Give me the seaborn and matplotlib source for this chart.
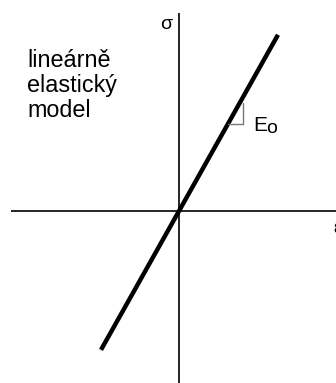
import matplotlib
matplotlib.use("Agg")
import matplotlib.pyplot as plt
import seaborn as sns
import pandas as pd

sns.set_theme(style="white")
plt.rcParams['font.family'] = ['Liberation Sans', 'DejaVu Sans']

# strain endpoints and elastic modulus of the linear model
strain = [-0.78, 0.99]
modulus = 1.78
stress = [modulus * e for e in strain]
label_text = ["lineárně", "elastický", "model"]

df = pd.DataFrame({"strain": strain, "stress": stress})

fig = plt.figure(figsize=(3.36, 3.83), dpi=100)
ax = fig.add_axes([0, 0, 1, 1])
ax.set_xlim(-1.79, 1.57)
ax.set_ylim(-1.72, 2.11)
ax.axis("off")

# coordinate axes
ax.plot([-1.68, 1.6], [0, 0], color="black", lw=1.2, solid_capstyle="butt")
ax.plot([0, 0], [-1.75, 1.98], color="black", lw=1.2, solid_capstyle="butt")

# stress-strain line
sns.lineplot(data=df, x="strain", y="stress", ax=ax, color="black", lw=3.2,
             legend=False)
ax.lines[-1].set_solid_capstyle("butt")

# slope triangle
y0 = 0.87
x0 = y0 / modulus
x1 = 0.64
ax.plot([x0, x1, x1], [y0, y0, modulus * x1 - 0.06], color="#777777", lw=1.0)

ax.text(0.745, 0.80, "E", fontsize=15, color="black", ha="left", va="baseline")
ax.text(0.875, 0.78, "o", fontsize=14, color="black", ha="left", va="baseline")

ax.text(-0.125, 1.82, "σ", fontsize=14, color="black", ha="center", va="baseline")
ax.text(1.54, -0.22, "ε", fontsize=14, color="black", ha="left", va="baseline")

for i, t in enumerate(label_text):
    ax.text(-1.52, 1.44 - i * 0.25, t, fontsize=16.8, color="black",
            ha="left", va="baseline")

fig.savefig("out.png", dpi=100, facecolor="white")
